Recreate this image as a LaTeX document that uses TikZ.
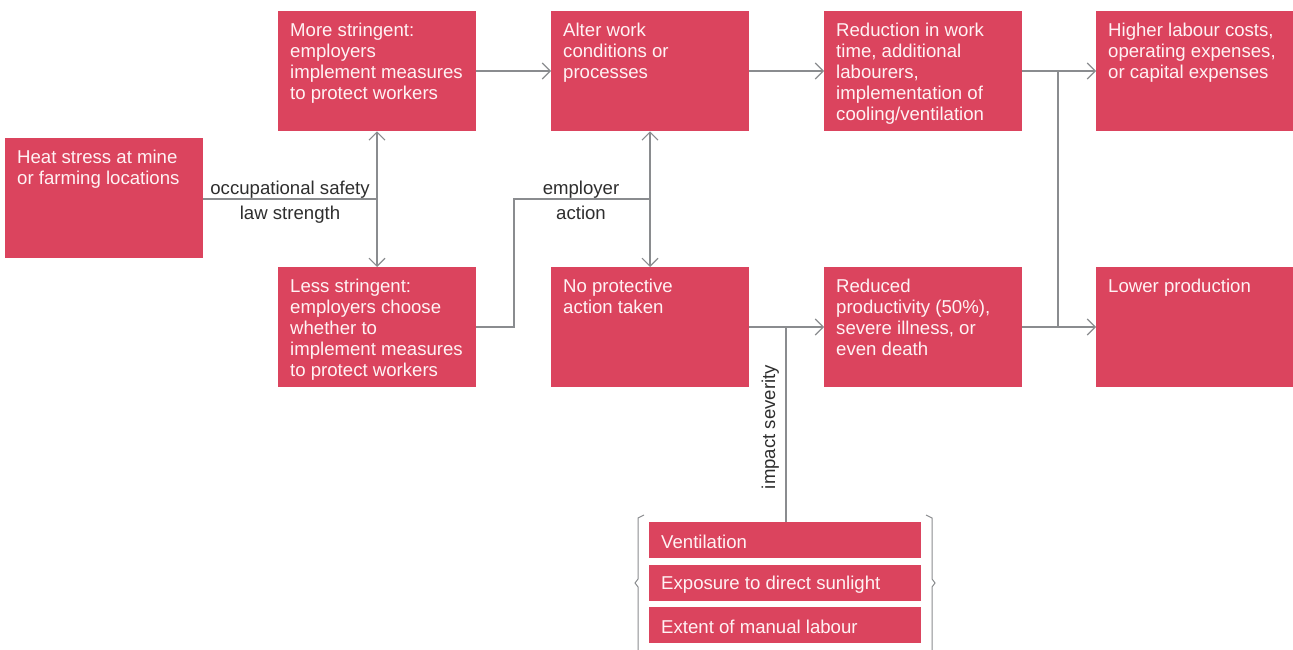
\documentclass[tikz,border=0pt]{standalone}
\usepackage{fontspec}
\setmainfont{Liberation Sans}
\usetikzlibrary{arrows.meta}
\definecolor{boxred}{HTML}{DB445E}
\definecolor{linegray}{HTML}{8A8C8F}
\definecolor{labgray}{HTML}{2E2E2E}
\definecolor{boxtext}{HTML}{FFF2F4}
\tikzset{
  box/.style={fill=boxred, draw=none, anchor=north west, minimum width=198pt, minimum height=120pt, inner sep=0pt},
  smallbox/.style={fill=boxred, draw=none, anchor=north west, minimum width=272pt, minimum height=36pt, inner sep=0pt},
  txt/.style={anchor=north west, text=boxtext, align=left, inner sep=0pt, font=\fontsize{18.6}{21}\selectfont},
  lab/.style={text=labgray, inner sep=0pt, font=\fontsize{18.6}{21}\selectfont},
  conn/.style={draw=linegray, line width=1.1pt},
  arr/.style={conn, -{Straight Barb[length=8pt,width=16pt]}},
  darr/.style={conn, {Straight Barb[length=8pt,width=16pt]}-{Straight Barb[length=8pt,width=16pt]}}
}
\begin{document}
\begin{tikzpicture}[x=1pt,y=-1pt]
\useasboundingbox (0,0) rectangle (1293,650);
% boxes
\node[box] (heat) at (5,138) {};
\node[box] (more) at (278,11) {};
\node[box] (less) at (278,267) {};
\node[box] (alter) at (551,11) {};
\node[box] (noprot) at (551,267) {};
\node[box] (reduct) at (824,11) {};
\node[box] (reduced) at (824,267) {};
\node[box] (higher) at (1096,11) {};
\node[box] (lower) at (1096,267) {};
\node[smallbox] (vent) at (649,522) {};
\node[smallbox] (expo) at (649,565) {};
\node[smallbox] (extent) at (649,607) {};
% texts
\node[txt] at ([xshift=12pt,yshift=-12pt]heat.north west) {Heat stress at mine\\or farming locations};
\node[txt] at ([xshift=12pt,yshift=-12pt]more.north west) {More stringent:\\employers\\implement measures\\to protect workers};
\node[txt] at ([xshift=12pt,yshift=-12pt]less.north west) {Less stringent:\\employers choose\\whether to\\implement measures\\to protect workers};
\node[txt] at ([xshift=12pt,yshift=-12pt]alter.north west) {Alter work\\conditions or\\processes};
\node[txt] at ([xshift=12pt,yshift=-12pt]noprot.north west) {No protective\\action taken};
\node[txt] at ([xshift=12pt,yshift=-12pt]reduct.north west) {Reduction in work\\time, additional\\labourers,\\implementation of\\cooling/ventilation};
\node[txt] at ([xshift=12pt,yshift=-12pt]reduced.north west) {Reduced\\productivity (50\%),\\severe illness, or\\even death};
\node[txt] at ([xshift=12pt,yshift=-12pt]higher.north west) {Higher labour costs,\\operating expenses,\\or capital expenses};
\node[txt] at ([xshift=12pt,yshift=-12pt]lower.north west) {Lower production};
\node[txt, anchor=west] at ([xshift=12pt,yshift=-1.5pt]vent.west) {Ventilation};
\node[txt, anchor=west] at ([xshift=12pt,yshift=-1.5pt]expo.west) {Exposure to direct sunlight};
\node[txt, anchor=west] at ([xshift=12pt,yshift=-1.5pt]extent.west) {Extent of manual labour};
% coordinates
\coordinate (j1) at (377,199);
\coordinate (j2) at (650,199);
\coordinate (k1) at (514,327);
\coordinate (k2) at (514,199);
\coordinate (m1) at (786,327);
\coordinate (r1) at (1058,71);
\coordinate (r2) at (1058,327);
% connectors
\draw[conn] (heat.east |- j1) -- (j1);
\draw[darr] (more.south -| j1) -- (less.north -| j1);
\draw[conn] (less.east |- k1) -- (k1) -- (k2) -- (j2);
\draw[darr] (alter.south -| j2) -- (noprot.north -| j2);
\draw[arr] (more.east |- 0,71) -- (alter.west |- 0,71);
\draw[arr] (alter.east |- 0,71) -- (reduct.west |- 0,71);
\draw[arr] (noprot.east |- m1) -- (reduced.west |- m1);
\draw[conn] (m1) -- (vent.north -| m1);
\draw[arr] (reduct.east |- r1) -- (higher.west |- r1);
\draw[arr] (reduced.east |- r2) -- (lower.west |- r2);
\draw[conn] (r1) -- (r2);
% labels
\node[lab, anchor=base] at (290,194) {occupational safety};
\node[lab, anchor=base] at (290,219) {law strength};
\node[lab, anchor=base] at (581,194) {employer};
\node[lab, anchor=base] at (581,219) {action};
\node[lab, rotate=90, anchor=base] at (775,427) {impact severity};
% braces
\draw[conn, line width=1pt] (644,515) -- (638,518) -- (638,579) -- (635,583) -- (638,587) -- (638,650);
\draw[conn, line width=1pt] (926,515) -- (932,518) -- (932,579) -- (935,583) -- (932,587) -- (932,650);
\end{tikzpicture}
\end{document}
